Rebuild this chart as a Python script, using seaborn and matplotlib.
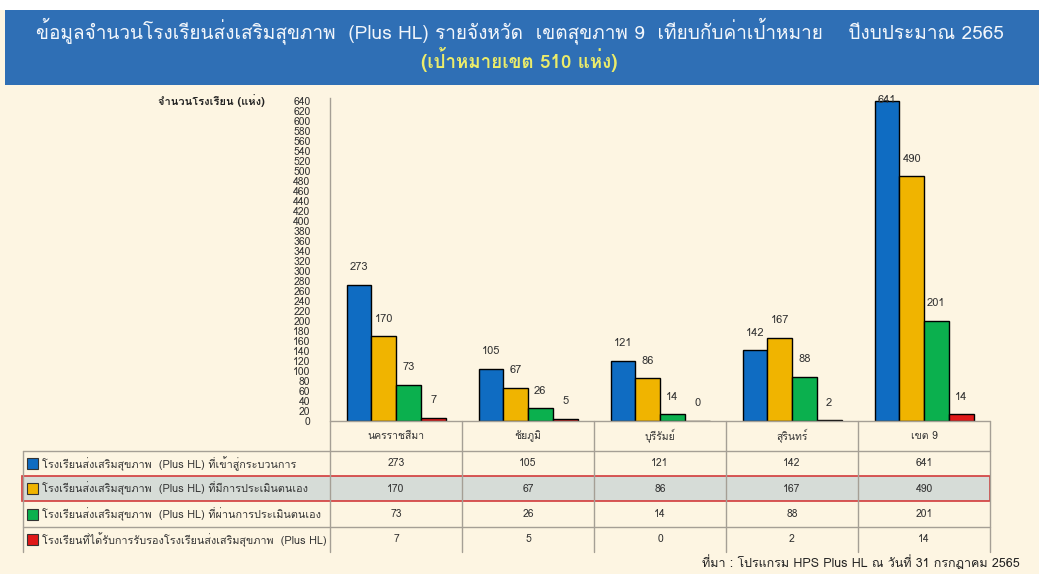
import pandas as pd
import matplotlib
matplotlib.use('Agg')
import matplotlib.pyplot as plt
import matplotlib.font_manager as fm
import matplotlib.transforms as mtransforms
from matplotlib.ft2font import FT2Font
from matplotlib.patches import Rectangle
import seaborn as sns

# ข้อมูล
provinces = ['นครราชสีมา', 'ชัยภูมิ', 'บุรีรัมย์', 'สุรินทร์', 'เขต 9']
series_names = [
    'โรงเรียนส่งเสริมสุขภาพ  (Plus HL) ที่เข้าสู่กระบวนการ',
    'โรงเรียนส่งเสริมสุขภาพ  (Plus HL) ที่มีการประเมินตนเอง',
    'โรงเรียนส่งเสริมสุขภาพ  (Plus HL) ที่ผ่านการประเมินตนเอง',
    'โรงเรียนที่ได้รับการรับรองโรงเรียนส่งเสริมสุขภาพ  (Plus HL)',
]
entered = [273, 105, 121, 142, 641]
self_assessed = [170, 67, 86, 167, 490]
passed = [73, 26, 14, 88, 201]
certified = [7, 5, 0, 2, 14]
y_ticks = list(range(0, 641, 20))

colors = ['#0f6cc2', '#f0b400', '#0bb04e', '#e01818']

title = 'ข้อมูลจำนวนโรงเรียนส่งเสริมสุขภาพ  (Plus HL) รายจังหวัด  เขตสุขภาพ 9  เทียบกับค่าเป้าหมาย    ปีงบประมาณ 2565'
subtitle = '(เป้าหมายเขต 510 แห่ง)'
y_label = 'จำนวนโรงเรียน (แห่ง)'
source = 'ที่มา : โปรแกรม HPS Plus HL ณ วันที่ 31 กรกฎาคม 2565'

# หาฟอนต์ที่มีอักษรไทย
thai_fonts = []
for f in fm.fontManager.ttflist:
    try:
        if 0x0E01 in FT2Font(f.fname).get_charmap() and f.name not in thai_fonts:
            thai_fonts.append(f.name)
    except Exception:
        pass

sns.set_style('white')
plt.rcParams['font.family'] = thai_fonts[:1] + ['DejaVu Sans']

series = [entered, self_assessed, passed, certified]
rows = []
for name, vals in zip(series_names, series):
    for p, v in zip(provinces, vals):
        rows.append({'province': p, 'type': name, 'count': v})
df = pd.DataFrame(rows)

W, H = 1039, 574
bg = '#fdf5e2'
fig = plt.figure(figsize=(W / 100, H / 100), dpi=100, facecolor=bg)


def fy(py):
    return 1 - py / H


# แถบหัวเรื่อง
fig.patches.append(Rectangle((0, fy(10)), 1, 1 - fy(10), transform=fig.transFigure,
                             facecolor='white', edgecolor='none', zorder=-2))
fig.patches.append(Rectangle((5 / W, fy(85)), 1, fy(10) - fy(85), transform=fig.transFigure,
                             facecolor='#2f6fb5', edgecolor='none', zorder=-2))
fig.text(0.5, fy(31), title, ha='center', va='center', color='#f2f6fb', fontsize=13.7)
fig.text(0.5, fy(60), subtitle, ha='center', va='center', color='#ecec6a', fontsize=13.5,
         fontweight='bold')

ax = fig.add_axes([330 / W, fy(421), 660 / W, fy(98) - fy(421)])
ax.set_facecolor(bg)
sns.barplot(data=df, x='province', y='count', hue='type', order=provinces,
            hue_order=series_names, palette=colors, saturation=1, width=0.75,
            edgecolor='black', linewidth=1, legend=False, ax=ax)
for c in ax.containers:
    anns = ax.bar_label(c, padding=9, fontsize=8, color='#333333')
    for bar, ann in zip(c, anns):
        if bar.get_height() > 600:
            # ป้ายค่าที่ชนขอบบนวางทับยอดแท่ง
            ann.xyann = (0, -3)

ax.set_ylim(0, 646)
ax.set_xlim(-0.5, len(provinces) - 0.5)
ax.set_yticks(y_ticks)
ax.set_yticklabels([str(t) for t in y_ticks], fontsize=7.5, color='#333333')
ax.tick_params(axis='y', length=0, pad=14)
ax.set_xticks([])
ax.set_xlabel('')
ax.set_ylabel('')
for s in ['top', 'right', 'bottom']:
    ax.spines[s].set_visible(False)
ax.spines['left'].set_color('#a59f95')
ax.spines['left'].set_linewidth(1)

fig.text(265 / W, fy(101), y_label, ha='right', va='center', fontsize=8, color='#222222',
         fontweight='bold')

# ตารางข้อมูลใต้กราฟ
tr = mtransforms.blended_transform_factory(ax.transData, fig.transFigure)
line_c = '#a59f95'
row_edges = [421, 451, 476, 501, 527, 552]
n = len(provinces)

# แถวที่เน้น
fig.patches.append(Rectangle((22 / W, fy(501)), 968 / W, fy(476) - fy(501),
                             transform=fig.transFigure, facecolor='#d6dcd7',
                             edgecolor='#d23a3a', linewidth=1.2, zorder=-1))

for i in range(n + 1):
    ax.plot([i - 0.5, i - 0.5], [fy(421), fy(552)], color=line_c, lw=1,
            transform=tr, clip_on=False)
ax.plot([-0.5, n - 0.5], [fy(421), fy(421)], color=line_c, lw=1, transform=tr, clip_on=False)
ax.plot([-0.5, n - 0.5], [fy(451), fy(451)], color=line_c, lw=1, transform=tr, clip_on=False)
for py in [451, 527]:
    fig.add_artist(plt.Line2D([23 / W, 330 / W], [fy(py), fy(py)], color=line_c, lw=1,
                              transform=fig.transFigure))
fig.add_artist(plt.Line2D([23 / W, 23 / W], [fy(451), fy(552)], color=line_c, lw=1,
                          transform=fig.transFigure))
ax.plot([-0.5, n - 0.5], [fy(527), fy(527)], color=line_c, lw=1, transform=tr, clip_on=False)

for i, p in enumerate(provinces):
    ax.text(i, fy(436), p, transform=tr, ha='center', va='center', fontsize=7.5,
            color='#333333')
for r, (name, vals) in enumerate(zip(series_names, series)):
    yc = (row_edges[r + 1] + row_edges[r + 2]) / 2
    for i, v in enumerate(vals):
        ax.text(i, fy(yc), str(v), transform=tr, ha='center', va='center', fontsize=7.5,
                color='#333333')
    fig.patches.append(Rectangle((27 / W, fy(yc + 5.5)), 11 / W, 11 / H,
                                 transform=fig.transFigure, facecolor=colors[r],
                                 edgecolor='#333333', linewidth=0.8, zorder=2))
    fig.text(42 / W, fy(yc), name, ha='left', va='center', fontsize=7.8, color='#333333')

fig.text(1020 / W, fy(563), source, ha='right', va='center', fontsize=9, color='#222222')

fig.savefig('out.png', dpi=100, facecolor=bg)
